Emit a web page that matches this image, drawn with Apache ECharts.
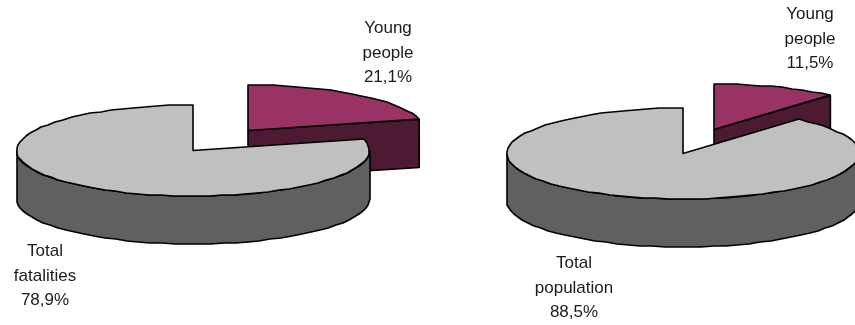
<!DOCTYPE html>
<html>
<head>
<meta charset="utf-8">
<style>html,body{margin:0;padding:0;background:#fff}#c{width:855px;height:325px}</style>
<script src="https://cdn.jsdelivr.net/npm/echarts@6/dist/echarts.min.js"></script>
</head>
<body>
<div id="c"></div>
<script>
// Share of young people among road fatalities and in the population
const fatalityNames = ['Young people', 'Total fatalities'];
const fatalityValues = [21.1, 78.9];
const populationNames = ['Young people', 'Total population'];
const populationValues = [11.5, 88.5];

// Fills: top face, then wall, for each slice position
const topColors = ['#993366', '#C0C0C0'];
const wallColors = ['#4D1A33', '#606060'];

// Placement of the two tilted pies and their labels
const pies = [
  {
    names: fatalityNames, values: fatalityValues, cx: 193, cy: 150.5, rx: 176.5, ry: 45.5, depth: 48,
    offsets: [[55, -20], [0, 0]],
    labels: [[388, 53], [45, 276]]
  },
  {
    names: populationNames, values: populationValues, cx: 683, cy: 153.5, rx: 176, ry: 45.5, depth: 48,
    offsets: [[31, -24], [0, 0]],
    labels: [[810, 39], [574, 288]]
  }
];

const STROKE = '#000';
// Rims are drawn as short straight segments on whole pixels
const STEP = Math.PI / 45;

// Point on the rim; the angle runs clockwise from twelve o'clock
function rim(p, ox, oy, a) {
  return [p.cx + ox + p.rx * Math.sin(a), p.cy + oy - p.ry * Math.cos(a)];
}

function arcPoints(p, ox, oy, a0, a1) {
  const pts = [];
  const n = Math.max(1, Math.ceil(Math.abs(a1 - a0) / STEP));
  for (let i = 0; i <= n; i++) {
    const q = rim(p, ox, oy, a0 + (a1 - a0) * i / n);
    pts.push([Math.round(q[0]), Math.round(q[1])]);
  }
  return pts;
}

function poly(points, fill) {
  return {
    type: 'polygon',
    shape: { points },
    style: { fill, stroke: STROKE, lineWidth: 1.6, lineJoin: 'round' }
  };
}

function labelLines(name, value) {
  const words = name.split(' ');
  return words.join('\n') + '\n' + value.toFixed(1).replace('.', ',') + '%';
}

function makeSeries(p) {
  const total = p.values.reduce((s, v) => s + v, 0);
  return {
    type: 'custom',
    coordinateSystem: 'none',
    silent: true,
    clip: false,
    data: p.values.map((v, i) => ({ name: p.names[i], value: [v] })),
    renderItem(params, api) {
      const i = params.dataIndex;
      const value = api.value(0);
      let before = 0;
      for (let k = 0; k < i; k++) before += p.values[k];
      const a0 = before / total * 2 * Math.PI;
      const a1 = (before + value) / total * 2 * Math.PI;
      const [ox, oy] = p.offsets[i];
      const apex = [p.cx + ox, p.cy + oy];
      const d = p.depth;
      const children = [];

      // Cut face at the end of a slice that stops short of the front
      if (a1 < Math.PI / 2) {
        const e = rim(p, ox, oy, a1);
        children.push(poly([apex, e, [e[0], e[1] + d], [apex[0], apex[1] + d]], wallColors[i]));
      }
      // Front wall: only the part of the rim on the near side shows
      const w0 = Math.max(a0, Math.PI / 2);
      const w1 = Math.min(a1, Math.PI * 1.5);
      if (w1 > w0) {
        const upper = arcPoints(p, ox, oy, w0, w1);
        const lower = upper.slice().reverse().map(q => [q[0], q[1] + d]);
        children.push(poly(upper.concat(lower), wallColors[i]));
      }
      // Top face
      children.push(poly([apex].concat(arcPoints(p, ox, oy, a0, a1)), topColors[i]));
      // Label
      children.push({
        type: 'text',
        z2: 10,
        style: {
          x: p.labels[i][0],
          y: p.labels[i][1],
          text: labelLines(p.names[i], value),
          align: 'center',
          verticalAlign: 'middle',
          fill: '#1a1a1a',
          lineHeight: 24.5,
          font: '17px "Liberation Sans", Arial, sans-serif'
        }
      });
      return { type: 'group', children };
    }
  };
}

const chart = echarts.init(document.getElementById('c'), null, { renderer: 'canvas' });
chart.setOption({
  animation: false,
  backgroundColor: '#fff',
  series: pies.map(makeSeries)
});
</script>
</body>
</html>
